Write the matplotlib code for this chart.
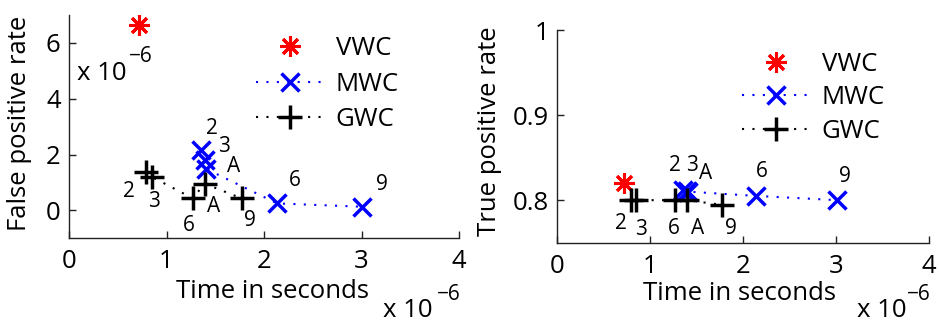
import matplotlib
matplotlib.use("Agg")
import matplotlib.pyplot as plt

plt.rcParams['font.family'] = ['Open Sans', 'DejaVu Sans']

# ---- data (times in units of 1e-6 s, FPR in units of 1e-6) ----
vwc_time = [0.718]
vwc_fpr = [6.64]
vwc_tpr = [0.8207]

mwc_labels = ['2', '3', 'A', '6', '9']
mwc_time = [1.355, 1.39, 1.41, 2.135, 3.01]
mwc_fpr = [2.16, 1.81, 1.48, 0.25, 0.13]
mwc_tpr = [0.812, 0.811, 0.810, 0.805, 0.800]

gwc_labels = ['2', '3', '6', 'A', '9']
gwc_time = [0.79, 0.85, 1.27, 1.39, 1.77]
gwc_fpr = [1.38, 1.20, 0.43, 0.96, 0.43]
gwc_tpr = [0.800, 0.800, 0.800, 0.800, 0.7945]

x_ticks = [0, 1, 2, 3, 4]
fpr_ticks = [0, 2, 4, 6]
tpr_ticks = [0.8, 0.9, 1.0]
tpr_ticklabels = ['0.8', '0.9', '1']

# label offsets in pixels (style)
off_left_mwc = [(11, 22), (19, 13), (27, 3), (18, 23), (19, 22)]
off_left_gwc = [(-17, -20), (2, -25), (-4, -27), (9, -23), (8, -22)]
off_right_mwc = [(-8, 24), (5, 25), (17, 18), (6, 24), (8, 24)]
off_right_gwc = [(-10, -23), (5, -29), (-2, -28), (11, -28), (9, -24)]

W, H = 939, 323
fig = plt.figure(figsize=(W / 100, H / 100), dpi=100)

FS = 18.5
LFS = 15
asterisk = (8, 2, 0)
dotted = (0, (1, 4))


def px_axes(x0, x1, ytop, ybot):
    return fig.add_axes([x0 / W, 1 - ybot / H, (x1 - x0) / W, (ybot - ytop) / H])


def style(ax):
    for s in ['top', 'right']:
        ax.spines[s].set_visible(False)
    for s in ['left', 'bottom']:
        ax.spines[s].set_linewidth(1.0)
        ax.spines[s].set_color('#222222')
    ax.tick_params(direction='in', length=5, width=1, labelsize=FS, color='#222222')
    ax.tick_params(axis='x', pad=8)
    ax.tick_params(axis='y', pad=6)


def draw(ax, yv, mv, gv, off_m, off_g):
    ax.plot(vwc_time, yv, linestyle='none', marker=asterisk, color='red',
            markersize=15, mew=2.2, label='VWC')
    ax.plot(mwc_time, mv, linestyle=dotted, color='blue', linewidth=1.5,
            marker='x', markersize=13, mew=2.5, label='MWC')
    ax.plot(gwc_time, gv, linestyle=dotted, color='black', linewidth=1.5,
            marker='+', markersize=17, mew=2.5, label='GWC')
    for t, v, lab, o in zip(mwc_time, mv, mwc_labels, off_m):
        ax.annotate(lab, (t, v), xytext=o, textcoords='offset pixels',
                    ha='center', va='center', fontsize=LFS)
    for t, v, lab, o in zip(gwc_time, gv, gwc_labels, off_g):
        ax.annotate(lab, (t, v), xytext=o, textcoords='offset pixels',
                    ha='center', va='center', fontsize=LFS)
    ax.set_xlim(0, 4)
    ax.set_xticks(x_ticks)
    ax.set_xticklabels([str(t) for t in x_ticks])


# ---- left panel ----
ax1 = px_axes(69, 459, 15, 238.3)
draw(ax1, vwc_fpr, mwc_fpr, gwc_fpr, off_left_mwc, off_left_gwc)
ax1.set_ylim(-1, 7)
ax1.set_yticks(fpr_ticks)
ax1.set_yticklabels([str(t) for t in fpr_ticks])
style(ax1)
ax1.set_xlabel('Time in seconds', fontsize=FS)
ax1.xaxis.set_label_coords(0.523, -0.239)
ax1.xaxis.label.set_va('center')
ax1.set_ylabel('False positive rate', fontsize=FS)
ax1.yaxis.set_label_coords(-0.126, 0.516)
ax1.yaxis.label.set_va('center')
leg1 = ax1.legend(loc='upper left', bbox_to_anchor=(0.48, 0.907), frameon=False,
                  fontsize=FS, handlelength=2.6, handletextpad=0.5,
                  labelspacing=0.42, borderpad=0, borderaxespad=0)

# ---- right panel ----
ax2 = px_axes(557.3, 929.3, 30, 242.7)
draw(ax2, vwc_tpr, mwc_tpr, gwc_tpr, off_right_mwc, off_right_gwc)
ax2.set_ylim(0.75, 1.0)
ax2.set_yticks(tpr_ticks)
ax2.set_yticklabels(tpr_ticklabels)
style(ax2)
ax2.set_xlabel('Time in seconds', fontsize=FS)
ax2.xaxis.set_label_coords(0.491, -0.238)
ax2.xaxis.label.set_va('center')
ax2.set_ylabel('True positive rate', fontsize=FS)
ax2.yaxis.set_label_coords(-0.181, 0.525)
ax2.yaxis.label.set_va('center')
leg2 = ax2.legend(loc='upper left', bbox_to_anchor=(0.497, 0.898), frameon=False,
                  fontsize=FS, handlelength=2.6, handletextpad=0.5,
                  labelspacing=0.33, borderpad=0, borderaxespad=0)


def exp_text(x, ybase, xs, ysup):
    fig.text(x / W, 1 - ybase / H, 'x 10', fontsize=FS, ha='left', va='baseline')
    fig.text(xs / W, 1 - ysup / H, '\u22126', fontsize=LFS, ha='left', va='center')


exp_text(77, 80, 129, 57)
exp_text(383, 317, 437, 295)
exp_text(857, 317, 907, 295)

fig.savefig('out.png', dpi=100)
